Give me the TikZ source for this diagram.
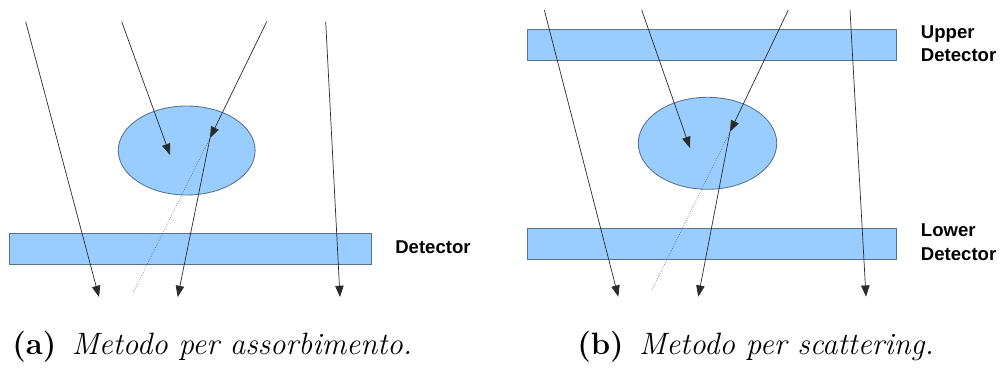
\documentclass[tikz,border=0pt]{standalone}
\usepackage{fontspec}
\newfontfamily\detfont{Liberation Sans}
\usepackage{tikz}
\usetikzlibrary{shapes.geometric, arrows.meta, positioning}
\definecolor{detfill}{HTML}{99CCFF}
\definecolor{detline}{HTML}{56728F}
\definecolor{raygray}{HTML}{2B2B2B}
\newcommand{\detlabel}[1]{{\detfont\bfseries #1}}

\begin{document}
\begin{tikzpicture}[x=0.025cm, y=-0.025cm,
    detector/.style={rectangle, draw=detline, fill=detfill, line width=0.6pt,
                     inner sep=0pt, outer sep=0pt},
    target/.style={ellipse, draw=detline, fill=detfill, line width=0.6pt,
                   inner sep=0pt, outer sep=0pt},
    ray/.style={raygray, line width=0.5pt,
                -{Triangle[length=8pt, width=6pt]}},
    ghost/.style={raygray!85, line width=0.4pt, densely dotted},
    detname/.style={anchor=west, align=left, inner sep=0pt,
                    font=\fontsize{13.2}{17}\selectfont},
    caption/.style={anchor=west, inner sep=0pt,
                    font=\fontsize{22}{24}\selectfont}]
  \useasboundingbox (0,0) rectangle (1001,368);

  % (a) absorption
  \node[detector, minimum width=9.04cm, minimum height=0.775cm] (detA) at (190.2,248.8) {};
  \node[target, minimum width=3.42cm, minimum height=2.225cm] (objA) at (186.7,150.5) {};
  \node[detname] (detAlbl) at (395,247) {\detlabel{Detector}};

  \coordinate (a1s) at (25.7,21.7);   \coordinate (a1e) at (99,297);
  \coordinate (a2s) at (121.7,21.7);  \coordinate (a2e) at (170,155);
  \coordinate (a3s) at (266.7,21.7);  \coordinate (a3h) at (210,138);
  \coordinate (a3e) at (177.7,297);   \coordinate (a3g) at (133,293);
  \coordinate (a4s) at (325.7,21.7);  \coordinate (a4e) at (340,297);

  \draw[ghost] (a3h) -- (a3g);
  \draw[ray] (a1s) -- (a1e);
  \draw[ray] (a2s) -- (a2e);
  \draw[ray] (a3s) -- (a3h);
  \draw[ray] (a3h) -- (a3e);
  \draw[ray] (a4s) -- (a4e);

  % (b) scattering
  \node[detector, minimum width=9.235cm, minimum height=0.77cm] (detU) at (712,44.7) {};
  \node[detector, minimum width=9.235cm, minimum height=0.77cm] (detL) at (712,243.7) {};
  \node[target, minimum width=3.46cm, minimum height=2.3cm] (objB) at (707.5,143.3) {};
  \node[detname] (detUlbl) at (920.7,43.7) {\detlabel{Upper}\\\detlabel{Detector}};
  \node[detname] (detLlbl) at (920.7,242) {\detlabel{Lower}\\\detlabel{Detector}};

  \coordinate (b1s) at (544.3,10);   \coordinate (b1e) at (618.3,296.7);
  \coordinate (b2s) at (641.7,10);   \coordinate (b2e) at (690,148);
  \coordinate (b3s) at (788.3,10);   \coordinate (b3h) at (730,131.7);
  \coordinate (b3e) at (698.3,296.7); \coordinate (b3g) at (652,290);
  \coordinate (b4s) at (850,10);     \coordinate (b4e) at (866,296.7);

  \draw[ghost] (b3h) -- (b3g);
  \draw[ray] (b1s) -- (b1e);
  \draw[ray] (b2s) -- (b2e);
  \draw[ray] (b3s) -- (b3h);
  \draw[ray] (b3h) -- (b3e);
  \draw[ray] (b4s) -- (b4e);

  % captions
  \node[caption] (capA) at (12,347) {\textbf{(a)}\enspace\textit{Metodo per assorbimento.}};
  \node[caption] (capB) at (577,347) {\textbf{(b)}\enspace\textit{Metodo per scattering.}};
\end{tikzpicture}
\end{document}
